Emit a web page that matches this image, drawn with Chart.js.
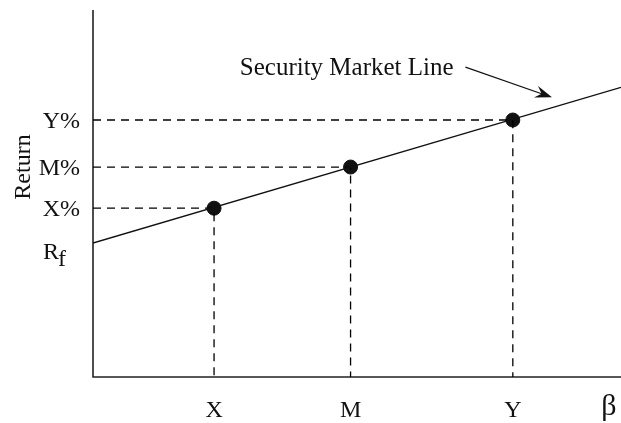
<!DOCTYPE html>
<html>
<head>
<meta charset="utf-8">
<script src="https://cdn.jsdelivr.net/npm/chart.js@4"></script>
<style>
    html, body { margin: 0; padding: 0; background: #fff; overflow: hidden; }
    canvas { display: block; }
</style>
</head>
<body>
<canvas id="smlChart" width="621" height="423"></canvas>
<script>
// Dữ liệu
const pointNames = ['X', 'M', 'Y'];
const betas = [0.47, 1.0, 1.63];
const returns = [4.02, 5.0, 6.12];
const returnLabels = ['X%', 'M%', 'Y%'];
const riskFree = 3.19;
const smlBeta = [0, 2.05];
const smlReturn = [3.19, 6.9];
const xMax = 2.05, yMax = 8.74;

// Chú thích + mũi tên (toạ độ dữ liệu)
const noteText = 'Security Market Line';
const notePos = [0.57, 7.36];
const arrowFrom = [1.446, 7.38];
const arrowTo = [1.782, 6.66];

const FONT = '"Liberation Serif", "Times New Roman", serif';
const INK = '#111';

const guideSets = betas.map((b, i) => ({
    type: 'line',
    data: [{ x: 0, y: returns[i] }, { x: b, y: returns[i] }, { x: b, y: 0 }],
    borderColor: '#000', borderWidth: 1.3, borderDash: [8, 6],
    pointRadius: 0, fill: false, tension: 0
}));

// Plugin vẽ trục và chữ
const axesPlugin = {
    id: 'axesText',
    beforeDatasetsDraw(chart) {
        const { ctx, chartArea: a } = chart;
        ctx.save();
        ctx.strokeStyle = '#222';
        ctx.lineWidth = 1.6;
        ctx.beginPath();
        ctx.moveTo(a.left, a.top);
        ctx.lineTo(a.left, a.bottom);
        ctx.lineTo(a.right, a.bottom);
        ctx.stroke();
        ctx.restore();
    },
    afterDraw(chart) {
        const { ctx, chartArea: a } = chart;
        const xs = chart.scales.x, ys = chart.scales.y;
        ctx.save();
        ctx.fillStyle = INK;
        ctx.font = '24px ' + FONT;

        // nhãn trục y
        ctx.textAlign = 'right';
        ctx.textBaseline = 'middle';
        returnLabels.forEach((t, i) => ctx.fillText(t, a.left - 13, ys.getPixelForValue(returns[i]) + 2));
        const rfY = ys.getPixelForValue(riskFree) + 10;
        ctx.textAlign = 'left';
        ctx.fillText('R', a.left - 50, rfY);
        ctx.fillText('f', a.left - 35, rfY + 7);

        // nhãn trục x
        ctx.textAlign = 'center';
        pointNames.forEach((t, i) => ctx.fillText(t, xs.getPixelForValue(betas[i]), a.bottom + 34));
        ctx.font = '30px ' + FONT;
        ctx.fillText('β', a.right - 12, a.bottom + 30);

        // tiêu đề trục y
        ctx.font = '24px ' + FONT;
        ctx.save();
        ctx.translate(a.left - 69, a.top + 157);
        ctx.rotate(-Math.PI / 2);
        ctx.fillText('Return', 0, 0);
        ctx.restore();

        // chú thích
        ctx.font = '25px ' + FONT;
        ctx.textAlign = 'left';
        ctx.fillText(noteText, xs.getPixelForValue(notePos[0]), ys.getPixelForValue(notePos[1]));

        // mũi tên
        const x1 = xs.getPixelForValue(arrowFrom[0]), y1 = ys.getPixelForValue(arrowFrom[1]);
        const x2 = xs.getPixelForValue(arrowTo[0]), y2 = ys.getPixelForValue(arrowTo[1]);
        const ang = Math.atan2(y2 - y1, x2 - x1);
        ctx.strokeStyle = INK;
        ctx.lineWidth = 1.2;
        ctx.beginPath();
        ctx.moveTo(x1, y1);
        ctx.lineTo(x2 - 8 * Math.cos(ang), y2 - 8 * Math.sin(ang));
        ctx.stroke();
        ctx.beginPath();
        ctx.moveTo(x2, y2);
        ctx.lineTo(x2 - 18 * Math.cos(ang - 0.35), y2 - 18 * Math.sin(ang - 0.35));
        ctx.lineTo(x2 - 11 * Math.cos(ang), y2 - 11 * Math.sin(ang));
        ctx.lineTo(x2 - 18 * Math.cos(ang + 0.35), y2 - 18 * Math.sin(ang + 0.35));
        ctx.closePath();
        ctx.fill();
        ctx.restore();
    }
};

new Chart(document.getElementById('smlChart'), {
    type: 'scatter',
    data: {
        datasets: [
            {
                type: 'line',
                data: smlBeta.map((b, i) => ({ x: b, y: smlReturn[i] })),
                borderColor: INK, borderWidth: 1.3, pointRadius: 0, fill: false
            },
            ...guideSets,
            {
                data: betas.map((b, i) => ({ x: b, y: returns[i] })),
                backgroundColor: INK, borderColor: INK,
                pointRadius: 7, clip: false
            }
        ]
    },
    options: {
        responsive: false,
        animation: false,
        layout: { autoPadding: false, padding: { left: 93, right: 0, top: 10, bottom: 46 } },
        plugins: { legend: { display: false }, tooltip: { enabled: false } },
        scales: {
            x: { type: 'linear', min: 0, max: xMax, display: false },
            y: { type: 'linear', min: 0, max: yMax, display: false }
        }
    },
    plugins: [axesPlugin]
});
</script>
</body>
</html>
